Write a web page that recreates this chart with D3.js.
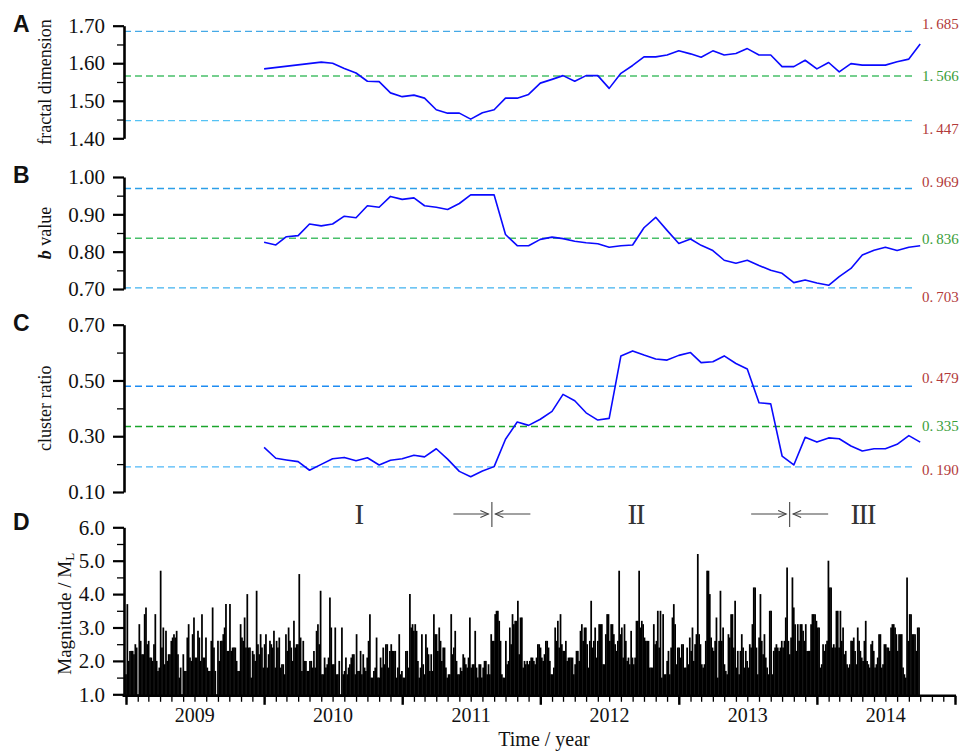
<!DOCTYPE html>
<html><head><meta charset="utf-8">
<script src="https://cdn.jsdelivr.net/npm/d3@7"></script>
<style>body{margin:0;background:#fff;} svg{display:block;}</style>
</head><body>
<svg id="chart" width="961" height="754"></svg>
<script>
// ---------------- DATA ----------------
const months = ["2010-01","2010-02","2010-03","2010-04","2010-05","2010-06","2010-07","2010-08","2010-09","2010-10","2010-11","2010-12",
"2011-01","2011-02","2011-03","2011-04","2011-05","2011-06","2011-07","2011-08","2011-09","2011-10","2011-11","2011-12",
"2012-01","2012-02","2012-03","2012-04","2012-05","2012-06","2012-07","2012-08","2012-09","2012-10","2012-11","2012-12",
"2013-01","2013-02","2013-03","2013-04","2013-05","2013-06","2013-07","2013-08","2013-09","2013-10","2013-11","2013-12",
"2014-01","2014-02","2014-03","2014-04","2014-05","2014-06","2014-07","2014-08","2014-09","2014-10"];

const fractalMonths = ["2010-01","2010-06","2010-07","2010-08","2010-09","2010-10","2010-11","2010-12",
"2011-01","2011-02","2011-03","2011-04","2011-05","2011-06","2011-07","2011-08","2011-09","2011-10","2011-11","2011-12",
"2012-01","2012-02","2012-03","2012-04","2012-05","2012-06","2012-07","2012-08","2012-09","2012-10","2012-11","2012-12",
"2013-01","2013-02","2013-03","2013-04","2013-05","2013-06","2013-07","2013-08","2013-09","2013-10","2013-11","2013-12",
"2014-01","2014-02","2014-03","2014-04","2014-05","2014-06","2014-07","2014-08","2014-09","2014-10"];

const fractalDim = [1.585,1.603,1.600,1.586,1.574,1.552,1.551,1.521,1.511,1.515,1.507,1.476,1.467,1.467,1.451,1.468,1.476,
1.507,1.507,1.517,1.547,1.557,1.567,1.552,1.567,1.567,1.533,1.573,1.594,1.617,1.617,1.622,1.633,1.625,1.616,1.633,1.622,
1.626,1.639,1.622,1.622,1.591,1.591,1.608,1.585,1.602,1.577,1.599,1.595,1.595,1.595,1.604,1.611,1.651];

const bValue = [0.825,0.818,0.840,0.843,0.874,0.869,0.874,0.895,0.891,0.923,0.919,0.948,0.940,0.944,0.923,0.919,0.913,0.929,0.952,0.952,
0.952,0.846,0.816,0.816,0.833,0.839,0.835,0.828,0.824,0.821,0.812,0.816,0.818,0.864,0.892,0.857,0.822,0.834,0.817,0.803,
0.777,0.769,0.777,0.763,0.750,0.742,0.717,0.724,0.716,0.710,0.733,0.755,0.791,0.804,0.812,0.803,0.812,0.816];

const clusterRatio = [0.260,0.221,0.215,0.209,0.178,0.199,0.219,0.224,0.212,0.223,0.197,0.214,0.219,0.232,0.226,0.255,0.218,0.174,0.155,0.175,
0.191,0.289,0.351,0.339,0.361,0.389,0.450,0.427,0.384,0.358,0.364,0.588,0.606,0.591,0.577,0.573,0.590,0.600,0.564,0.567,
0.588,0.561,0.541,0.420,0.416,0.229,0.197,0.296,0.279,0.294,0.291,0.265,0.247,0.255,0.255,0.271,0.302,0.279];

const fractalRef = [1.685, 1.566, 1.447];
const bRef = [0.969, 0.836, 0.703];
const clusterRef = [0.479, 0.335, 0.190];

const fractalTicks = [1.40, 1.50, 1.60, 1.70];
const bTicks = [0.70, 0.80, 0.90, 1.00];
const clusterTicks = [0.10, 0.30, 0.50, 0.70];
const magTicks = [1, 2, 3, 4, 5, 6];
const yearLabels = ["2009","2010","2011","2012","2013","2014"];

const phaseBoundaries = ["2011-08-26", "2013-10-21"];
const phaseNames = ["I", "II", "III"];
const phaseCenters = ["2010-09-10", "2012-09-09", "2014-05-02"];

const catalogSpan = ["2009-01-01", "2014-09-28"];
const magnitudes = [
1.6,3.7,2.0,2.3,2.3,2.3,2.2,2.5,2.4,1.0, 3.1,2.6,2.2,2.2,3.4,3.6,2.5,2.6,2.1,2.1,
2.0,2.5,3.4,2.0,1.7,1.8,4.7,2.4,3.0,1.9, 2.9,2.0,2.2,2.2,2.6,2.7,2.8,2.7,2.9,2.2,
1.5,1.8,1.0,2.2,1.7,1.7,2.7,3.1,2.1,2.0, 2.8,3.3,2.1,2.1,2.9,2.7,2.0,3.4,2.1,2.1,
2.7,1.8,1.7,1.7,2.6,3.6,2.4,1.7,1.0,2.6, 2.0,2.6,2.6,2.8,3.0,3.7,2.3,2.3,3.7,2.3,
2.4,2.4,2.4,2.0,1.7,1.7,3.1,2.7,2.6,3.3, 2.4,4.0,2.4,2.4,1.5,2.3,2.2,2.0,4.1,2.5,
2.2,2.8,2.4,1.8,2.5,2.8,1.8,2.2,2.6,2.5, 2.4,2.9,1.8,2.6,2.4,2.7,1.8,1.9,1.9,1.6,
2.8,2.3,3.0,2.6,2.4,2.0,3.2,2.4,2.5,2.5, 4.6,2.7,1.7,2.6,2.0,2.0,1.7,1.7,2.0,2.0,
1.8,2.3,1.8,2.9,3.1,2.5,4.1,1.6,1.6,2.1, 1.8,1.9,2.1,3.9,3.0,1.9,1.9,3.0,1.6,1.6,
2.0,1.0,3.0,1.6,1.7,2.1,1.6,1.8,1.9,2.1, 2.2,2.2,1.6,2.8,1.7,1.7,2.3,1.6,2.2,1.8,
1.7,2.1,2.6,3.4,1.5,1.5,1.7,1.8,2.7,1.5, 1.5,2.1,1.8,2.4,1.9,2.5,2.5,1.8,2.3,2.5,
2.3,
2.3,2.3,1.5,1.8,2.8,1.6,1.7,1.5,1.5,2.3, 2.3,1.8,4.0,3.0,3.1,2.9,3.1,2.9,2.0,1.5,
1.8,2.8,1.9,1.6,2.8,2.4,2.2,1.7,2.2,1.7, 3.4,2.8,2.8,2.3,3.0,2.6,2.0,2.4,2.4,1.8,
1.5,1.6,1.6,3.4,2.2,2.4,2.9,2.0,1.6,1.6, 1.8,1.7,2.2,2.1,1.9,1.8,2.1,3.3,1.8,1.9,
1.9,2.9,1.8,1.5,1.9,1.9,1.5,1.8,2.0,2.0, 1.6,1.9,1.6,2.8,2.6,2.6,3.4,3.5,3.5,3.2,
2.6,1.6,1.5,1.5,2.6,1.9,2.0,3.0,2.5,3.4, 3.1,3.2,3.2,3.8,2.2,3.3,3.3,1.8,2.0,1.9,
2.0,1.9,2.0,2.1,2.1,2.0,1.9,2.1,2.5,2.5, 2.4,2.1,2.0,2.2,2.6,2.6,2.4,2.0,1.6,1.6,
1.8,3.0,2.6,3.2,2.4,3.4,2.5,2.3,2.3,2.6, 2.0,2.1,2.1,2.1,2.1,1.6,1.9,2.3,2.3,2.0,
2.9,3.1,2.6,3.0,3.0,2.5,1.8,2.6,3.8,2.4, 2.6,3.0,2.1,2.6,3.1,3.1,3.1,1.9,1.9,2.8,
3.4,3.4,2.6,3.1,3.1,2.8,2.5,2.3,2.6,4.7, 2.8,3.0,2.1,3.1,2.6,2.0,2.1,1.9,2.9,2.1,
1.9,2.1,3.2,3.2,4.7,3.0,3.2,3.1,2.7,2.6, 2.6,2.6,1.8,1.8,1.8,3.1,2.5,2.6,3.5,2.4,
3.5,
1.5,3.4,1.6,1.6,2.0,2.3,1.6,2.4,3.3,3.7, 3.1,1.9,2.4,2.4,2.1,2.5,2.5,1.8,1.8,2.4,
1.9,2.7,2.3,3.0,2.0,2.5,2.8,5.2,2.8,2.5, 1.9,1.8,1.9,2.6,4.7,4.7,4.0,2.7,2.4,2.3,
2.6,3.3,1.5,2.6,4.1,2.6,3.0,1.9,1.7,1.6, 2.8,2.7,3.4,3.4,2.4,3.8,1.8,2.3,1.6,2.3,
2.8,2.4,1.8,2.3,2.0,1.8,2.5,2.4,3.1,4.2, 4.2,2.4,1.6,2.7,4.0,2.6,2.2,2.8,2.1,1.8,
1.6,3.5,3.5,1.6,2.3,2.4,2.5,2.4,2.3,2.4, 2.6,2.4,2.6,3.3,4.8,2.6,2.2,2.7,4.5,3.6,
3.1,2.3,3.1,2.6,3.1,3.1,2.9,2.6,3.1,2.3, 2.3,2.3,3.1,3.4,3.4,3.4,3.2,3.0,3.0,1.8,
1.9,2.5,2.3,2.5,2.6,5.0,4.2,4.2,2.4,2.5, 2.4,3.5,3.5,2.4,3.5,2.6,3.0,2.2,2.3,1.9,
1.8,1.9,2.6,2.6,2.7,2.3,1.9,3.0,2.6,2.3, 2.1,2.0,2.6,3.2,2.0,1.9,1.8,2.5,2.6,2.3,
1.8,1.9,2.1,2.8,2.8,1.8,1.9,2.5,2.5,2.4, 2.4,2.3,3.0,3.1,3.1,3.0,2.8,2.3,2.8,2.8,
2.8,1.8,1.6,1.5,4.5,2.6,3.4,3.4,2.8,2.8, 2.8,2.3,3.0,3.0
];

// ---------------- LAYOUT ----------------
const svg = d3.select("#chart");
const pMonth = d3.utcParse("%Y-%m");
const pDay = d3.utcParse("%Y-%m-%d");
const x = d3.scaleUtc().domain([pDay("2009-01-01"), pDay("2015-01-01")]).range([126, 955]);
const AXIS_X = 124, REF_END = 913, LABEL_X = 922;
const serif = "'Liberation Serif','Times New Roman',serif";

const panels = [
  {letter:"A", letterY:32, ticks:fractalTicks, range:[138.3, 25.7], fmt:".2f", minorStep:0.05,
   times:fractalMonths, values:fractalDim, refs:fractalRef,
   refColors:["#45a9e6","#48c06a","#55c2f4"], labelDy:[-2.5, 5.5, 13.5],
   title:"fractal dimension", titleX:45},
  {letter:"B", letterY:183, ticks:bTicks, range:[289, 177], fmt:".2f", minorStep:0.05,
   times:months, values:bValue, refs:bRef,
   refColors:["#2c9fe8","#48c06a","#40b2f0"], labelDy:[-2, 5.5, 14],
   title:"b", titleX:45},
  {letter:"C", letterY:331, ticks:clusterTicks, range:[492, 324.7], fmt:".2f", minorStep:0.1,
   times:months, values:clusterRatio, refs:clusterRef,
   refColors:["#1e8cf2","#1aa52c","#4fb8f8"], labelDy:[-3, 4.5, 8],
   title:"cluster ratio", titleX:45}
];
const refLabelColors = ["#b23a3a","#3a9e3a","#b23a3a"];

function drawYAxis(g, y, ticks, fmt, minorStep){
  const lo = d3.min(ticks), hi = d3.max(ticks);
  const minors = d3.range(lo + minorStep, hi, minorStep*2).map(v => +v.toFixed(3));
  g.append("g").attr("transform", `translate(${AXIS_X},0)`)
    .call(d3.axisLeft(y).tickValues(minors).tickSize(7).tickFormat("").tickSizeOuter(0))
    .call(s => s.select(".domain").remove())
    .call(s => s.selectAll("line").attr("stroke","#000").attr("stroke-width",1.3));
  g.append("g").attr("transform", `translate(${AXIS_X},0)`)
    .call(d3.axisLeft(y).tickValues(ticks).tickSize(11).tickPadding(8).tickFormat(d3.format(fmt)).tickSizeOuter(0))
    .call(s => s.select(".domain").attr("stroke","#000").attr("stroke-width",2.6))
    .call(s => s.selectAll("line").attr("stroke","#000").attr("stroke-width",2.2))
    .call(s => s.selectAll("text").attr("font-family",serif).attr("font-size",21).attr("fill","#111"));
}

panels.forEach(p => {
  const y = d3.scaleLinear().domain([d3.min(p.ticks), d3.max(p.ticks)]).range(p.range);
  const g = svg.append("g");
  p.refs.forEach((r, i) => {
    g.append("line").attr("x1", AXIS_X).attr("x2", REF_END).attr("y1", y(r)).attr("y2", y(r))
      .attr("stroke", p.refColors[i]).attr("stroke-width", 1.4).attr("stroke-dasharray", "7,4");
    const s = d3.format(".3f")(r).split(".");
    const t = g.append("text").attr("x", LABEL_X).attr("y", y(r) + p.labelDy[i])
      .attr("font-family", serif).attr("font-size", 15).attr("fill", refLabelColors[i]);
    t.append("tspan").text(s[0] + ".");
    t.append("tspan").attr("dx", 3).text(s[1]);
  });
  drawYAxis(g, y, p.ticks, p.fmt, p.minorStep);
  const data = p.times.map((t, i) => ({t: pMonth(t), v: p.values[i]}));
  g.append("path").datum(data)
    .attr("d", d3.line().x(d => x(d.t)).y(d => y(d.v)))
    .attr("fill", "none").attr("stroke", "#0a0aff").attr("stroke-width", 1.6).attr("stroke-linejoin","round");
  svg.append("text").attr("x", 13).attr("y", p.letterY).text(p.letter)
    .attr("font-family","'Liberation Sans',Arial,sans-serif").attr("font-weight","bold").attr("font-size",23).attr("fill","#111");
  const cy = (p.range[0] + p.range[1]) / 2;
  const tt = svg.append("text").attr("transform", `translate(${p.titleX},${cy}) rotate(-90)`)
    .attr("text-anchor","middle").attr("dominant-baseline","central")
    .attr("font-family", serif).attr("font-size", 18).attr("fill","#111");
  if (p.title === "b") {
    tt.append("tspan").attr("font-weight","bold").attr("font-style","italic").text("b");
    tt.append("tspan").text(" value");
  } else tt.text(p.title);
});

// ---------------- PANEL D ----------------
const yD = d3.scaleLinear().domain([1, 6]).range([694.3, 527.3]);
const gD = svg.append("g");
const t0 = pDay(catalogSpan[0]).getTime(), t1 = pDay(catalogSpan[1]).getTime();
const idx = d3.scaleLinear().domain([0, magnitudes.length - 1]).range([t0, t1]);
const AXIS_Y = 695.8;
gD.append("g").selectAll("line").data(magnitudes).join("line")
  .attr("x1", (d, i) => x(new Date(idx(i)))).attr("x2", (d, i) => x(new Date(idx(i))))
  .attr("y1", AXIS_Y).attr("y2", d => yD(d))
  .attr("stroke", "#000").attr("stroke-width", 1.75);

drawYAxis(gD, yD, magTicks, ".1f", 0.5);
gD.append("line").attr("x1",AXIS_X).attr("x2",AXIS_X).attr("y1",yD(1)).attr("y2",AXIS_Y+1.2)
  .attr("stroke","#000").attr("stroke-width",2.6);

const xAxisG = gD.append("g").attr("transform", `translate(0,${AXIS_Y})`);
xAxisG.call(d3.axisBottom(x).ticks(d3.utcMonth.every(1)).tickSize(6).tickFormat("").tickSizeOuter(0))
  .call(s => s.select(".domain").remove())
  .call(s => s.selectAll("line").attr("stroke","#000").attr("stroke-width",1.3));
xAxisG.append("g").call(d3.axisBottom(x).ticks(d3.utcYear.every(1)).tickSize(9).tickFormat("").tickSizeOuter(0))
  .call(s => s.select(".domain").remove())
  .call(s => s.selectAll("line").attr("stroke","#000").attr("stroke-width",2.4));
gD.append("line").attr("x1", AXIS_X - 1.2).attr("x2", x.range()[1] + 1).attr("y1", AXIS_Y).attr("y2", AXIS_Y)
  .attr("stroke","#000").attr("stroke-width",2.6);
yearLabels.forEach(yr => {
  gD.append("text").attr("x", x(pDay(yr + "-07-02"))).attr("y", 722).attr("text-anchor","middle")
    .attr("font-family", serif).attr("font-size", 20).attr("fill","#111").text(yr);
});
gD.append("text").attr("x", 544).attr("y", 746).attr("text-anchor","middle")
  .attr("font-family", serif).attr("font-size", 20).attr("fill","#111").text("Time / year");

svg.append("text").attr("x", 13).attr("y", 530).text("D")
  .attr("font-family","'Liberation Sans',Arial,sans-serif").attr("font-weight","bold").attr("font-size",23).attr("fill","#111");
const dt = svg.append("text").attr("transform", `translate(64,${(yD(1)+yD(6))/2 + 3}) rotate(-90)`)
  .attr("text-anchor","middle").attr("dominant-baseline","central")
  .attr("font-family", serif).attr("font-size", 19).attr("fill","#111");
dt.append("tspan").text("Magnitude / M");
dt.append("tspan").attr("font-size", 13).attr("dy", 5).text("L");

// phases
const PH_Y = 514, ARR = 35, GAP = 3.5;
phaseNames.forEach((n, i) => {
  svg.append("text").attr("x", x(pDay(phaseCenters[i]))).attr("y", 524).attr("text-anchor","middle")
    .attr("font-family", serif).attr("font-size", 29).attr("letter-spacing", n.length > 1 ? -1.5 : 0)
    .attr("fill","#333").text(n);
});
phaseBoundaries.forEach(b => {
  const bx = x(pDay(b));
  const g = svg.append("g").attr("stroke","#444").attr("stroke-width",1.1).attr("fill","none");
  g.append("line").attr("x1", bx).attr("x2", bx).attr("y1", 502).attr("y2", 527);
  const tipL = bx - GAP;
  g.append("line").attr("x1", tipL - ARR).attr("x2", tipL).attr("y1", PH_Y).attr("y2", PH_Y);
  g.append("path").attr("d", `M${tipL-8},${PH_Y-3.5}L${tipL},${PH_Y}L${tipL-8},${PH_Y+3.5}`);
  const tipR = bx + GAP;
  g.append("line").attr("x1", tipR).attr("x2", tipR + ARR).attr("y1", PH_Y).attr("y2", PH_Y);
  g.append("path").attr("d", `M${tipR+8},${PH_Y-3.5}L${tipR},${PH_Y}L${tipR+8},${PH_Y+3.5}`);
});
</script>
</body></html>
